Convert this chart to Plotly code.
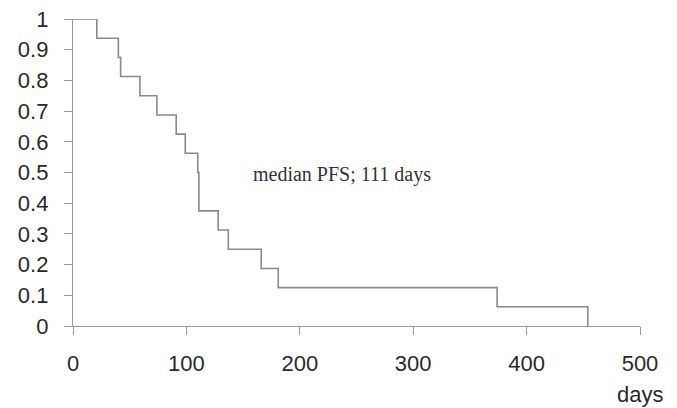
import plotly.graph_objects as go

# Kaplan-Meier progression-free survival data
days = [0, 21, 40, 42, 59, 74, 91, 99, 110, 111, 128, 137, 166, 181, 374, 454]
survival = [1, 0.9375, 0.875, 0.8125, 0.75, 0.6875, 0.625, 0.5625, 0.5,
            0.375, 0.3125, 0.25, 0.1875, 0.125, 0.0625, 0]

x_ticks = [0, 100, 200, 300, 400, 500]
y_ticks = [0, 0.1, 0.2, 0.3, 0.4, 0.5, 0.6, 0.7, 0.8, 0.9, 1]
y_tick_labels = ["0", "0.1", "0.2", "0.3", "0.4", "0.5", "0.6", "0.7", "0.8", "0.9", "1"]

median_label = "median PFS; 111 days"
x_unit = "days"

AX = "#9a9a9a"
TXT = "#2a2a2a"
tick_font = dict(family="Liberation Sans, Arial, sans-serif", size=22, color=TXT)

fig = go.Figure()
fig.add_trace(go.Scatter(
    x=days, y=survival, mode="lines", line_shape="hv",
    line=dict(color="#8a8a8a", width=1.6),
    cliponaxis=False, showlegend=False, hoverinfo="skip",
))

fig.update_xaxes(
    range=[0, 500], tickvals=x_ticks, ticktext=[str(v) for v in x_ticks],
    showgrid=False, zeroline=False, showline=True, linecolor=AX, linewidth=1.3,
    ticks="outside", ticklen=8, tickcolor=AX, tickwidth=1.3,
    tickfont=tick_font, ticklabelstandoff=9, automargin=False,
    ticklabeloverflow="allow",
)
fig.update_yaxes(
    range=[0, 1], tickvals=y_ticks, ticktext=y_tick_labels,
    showgrid=False, zeroline=False, showline=True, linecolor=AX, linewidth=1.3,
    ticks="outside", ticklen=8, tickcolor=AX, tickwidth=1.3,
    tickfont=tick_font, ticklabelstandoff=11, automargin=False,
    ticklabeloverflow="allow",
)

fig.add_annotation(
    x=237, y=0.493, xref="x", yref="y", text=median_label, showarrow=False,
    font=dict(family="Liberation Serif, Times New Roman, serif", size=20, color="#333333"),
    xanchor="center", yanchor="middle",
)
fig.add_annotation(
    x=500, y=-0.222, xref="x", yref="paper", text=x_unit, showarrow=False,
    font=tick_font, xanchor="center", yanchor="middle",
)

fig.update_layout(
    width=669, height=400,
    margin=dict(l=65, r=37, t=11, b=82, autoexpand=False),
    paper_bgcolor="white", plot_bgcolor="white",
)

fig.write_html("out.html")
